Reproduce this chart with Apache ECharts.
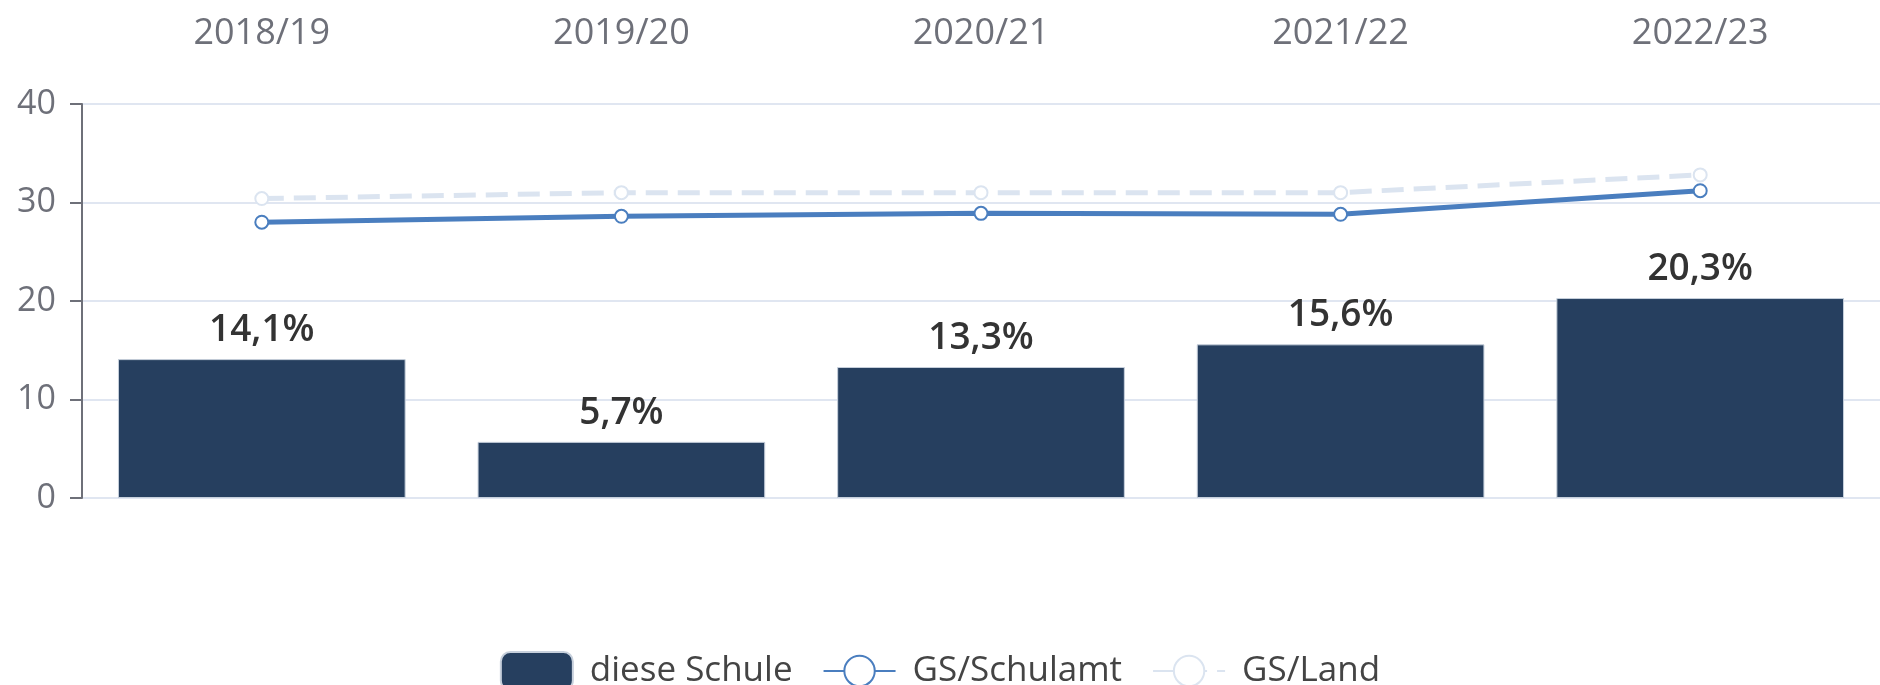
<!DOCTYPE html>
<html>
<head>
<meta charset="utf-8">
<script src="https://cdn.jsdelivr.net/npm/echarts@6/dist/echarts.min.js"></script>
<style>
  html, body { margin: 0; padding: 0; background: #fff; }
  #chart { width: 1880px; height: 685px; }
</style>
</head>
<body>
<div id="chart"></div>
<script>
// Schuljahre
const years = ['2018/19', '2019/20', '2020/21', '2021/22', '2022/23'];
// Anteil in %
const schule = [14.1, 5.7, 13.3, 15.6, 20.3];
const schulamt = [28.0, 28.6, 28.9, 28.8, 31.2];
const land = [30.4, 31.0, 31.0, 31.0, 32.8];
const yTicks = [0, 10, 20, 30, 40];

const font = "'Open Sans', 'Noto Sans', sans-serif";
const chart = echarts.init(document.getElementById('chart'));

chart.setOption({
  animation: false,
  textStyle: { fontFamily: font },
  grid: {
    left: 82,
    top: 104,
    width: 1806,
    bottom: 187
  },
  legend: {
    top: 646,
    left: 'center',
    itemWidth: 72,
    itemHeight: 38,
    itemGap: 30,
    textStyle: { fontSize: 35, color: '#444', fontFamily: font, padding: [0, 0, 0, 12] },
    data: ['diese Schule', 'GS/Schulamt', 'GS/Land']
  },
  xAxis: {
    type: 'category',
    position: 'top',
    data: years,
    axisLine: { show: false },
    axisTick: { show: false },
    axisLabel: {
      margin: 52,
      fontSize: 36,
      color: '#6e7079'
    }
  },
  yAxis: {
    type: 'value',
    min: yTicks[0],
    max: yTicks[yTicks.length - 1],
    interval: 10,
    axisLine: { show: true, lineStyle: { color: '#6e7079', width: 2 } },
    axisTick: { show: true, length: 12, lineStyle: { color: '#6e7079', width: 2 } },
    axisLabel: { margin: 26, fontSize: 34, color: '#6e7079' },
    splitLine: { lineStyle: { color: '#e0e6f1', width: 2 } }
  },
  series: [
    {
      name: 'diese Schule',
      type: 'bar',
      barWidth: '80%',
      data: schule,
      itemStyle: {
        color: '#263f5f',
        borderColor: '#c7d0dc',
        borderWidth: 1
      },
      label: {
        show: true,
        position: 'top',
        distance: 10,
        fontSize: 37,
        fontWeight: 600,
        color: '#333',
        formatter: p => p.value.toFixed(1).replace('.', ',') + '%'
      },
      z: 1
    },
    {
      name: 'GS/Schulamt',
      type: 'line',
      data: schulamt,
      symbol: 'emptyCircle',
      symbolSize: 13,
      lineStyle: { color: '#4a7ebf', width: 5 },
      itemStyle: { color: '#4a7ebf', borderWidth: 4 },
      z: 3
    },
    {
      name: 'GS/Land',
      type: 'line',
      data: land,
      symbol: 'emptyCircle',
      symbolSize: 13,
      lineStyle: { color: '#dbe4f0', width: 5, type: [22, 10] },
      itemStyle: { color: '#dbe4f0', borderWidth: 4 },
      z: 2
    }
  ]
});
</script>
</body>
</html>
